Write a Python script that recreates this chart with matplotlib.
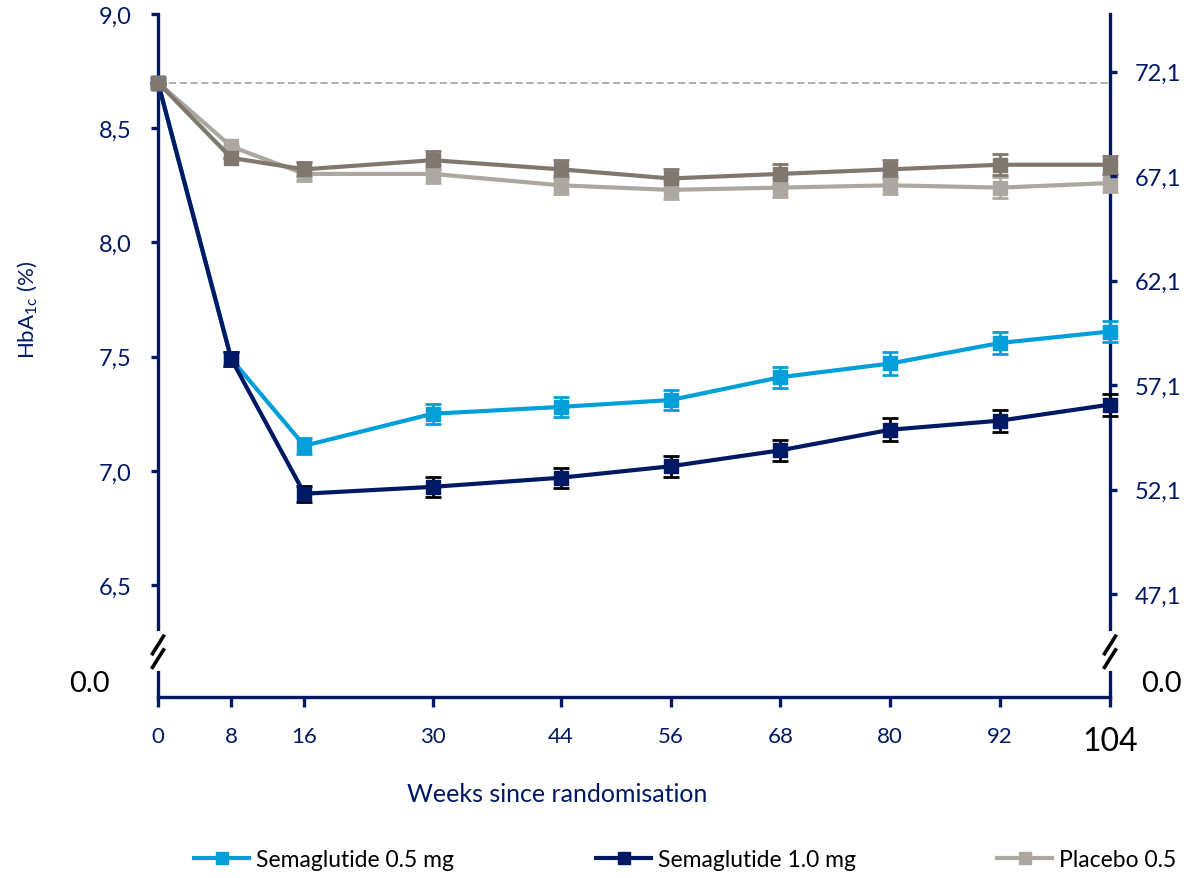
import numpy as np
import matplotlib.pyplot as plt
from matplotlib.lines import Line2D

plt.rcParams['font.family'] = ['Lato', 'DejaVu Sans']

# Dati
weeks = [0, 8, 16, 30, 44, 56, 68, 80, 92, 104]
sema05 = [8.70, 7.49, 7.11, 7.25, 7.28, 7.31, 7.41, 7.47, 7.56, 7.61]
sema05_err = [0.0, 0.03, 0.035, 0.044, 0.044, 0.044, 0.046, 0.05, 0.048, 0.047]
sema10 = [8.70, 7.49, 6.90, 6.93, 6.97, 7.02, 7.09, 7.18, 7.22, 7.29]
sema10_err = [0.0, 0.03, 0.035, 0.044, 0.044, 0.045, 0.047, 0.05, 0.048, 0.048]
plac05 = [8.70, 8.42, 8.30, 8.30, 8.25, 8.23, 8.24, 8.25, 8.24, 8.26]
plac05_err = [0.0, 0.0, 0.03, 0.04, 0.04, 0.04, 0.04, 0.04, 0.045, 0.04]
plac10 = [8.70, 8.37, 8.32, 8.36, 8.32, 8.28, 8.30, 8.32, 8.34, 8.34]
plac10_err = [0.0, 0.0, 0.03, 0.04, 0.04, 0.04, 0.045, 0.04, 0.045, 0.04]
baseline = 8.7

left_ticks = [6.5, 7.0, 7.5, 8.0, 8.5, 9.0]
left_labels = ['6,5', '7,0', '7,5', '8,0', '8,5', '9,0']
right_mmol = [47.1, 52.1, 57.1, 62.1, 67.1, 72.1]
right_labels = ['47,1', '52,1', '57,1', '62,1', '67,1', '72,1']

navy = '#001965'
lblue = '#009FDA'
dgrey = '#80776F'
lgrey = '#ADA7A1'

W, H = 1188, 879
fig = plt.figure(figsize=(W / 100, H / 100), dpi=100)
ax = fig.add_axes([158 / W, 1 - 698 / H, 952 / W, 683 / H])

ymin, ymax = 6.01, 9.0
ax.set_xlim(0, 104)
ax.set_ylim(ymin, ymax)

ax.axhline(baseline, color=lgrey, lw=1.3, ls=(0, (4, 2)), zorder=1)

series = [
    (sema05, sema05_err, lblue, lblue),
    (sema10, sema10_err, navy, 'black'),
    (plac05, plac05_err, lgrey, lgrey),
    (plac10, plac10_err, dgrey, dgrey),
]
for vals, err, c, ec in series:
    el = ax.errorbar(weeks, vals, yerr=err, color=c, marker='s', ms=10, lw=3,
                     ecolor=ec, elinewidth=2, capsize=5.5, capthick=2, zorder=3)
    for art in el.get_children():
        art.set_clip_on(False)

for side in ['left', 'right', 'bottom']:
    ax.spines[side].set_color(navy)
    ax.spines[side].set_linewidth(2.4)
ax.spines['top'].set_visible(False)

ax.set_yticks(left_ticks)
ax.set_yticklabels(left_labels)
ax.tick_params(axis='y', direction='out', length=5, width=2.4, color=navy,
               labelcolor=navy, labelsize=17, pad=14)
ax.set_xticks(weeks)
ax.set_xticklabels([str(w) for w in weeks])
ax.tick_params(axis='x', direction='out', length=7, width=2.4, color=navy,
               labelcolor=navy, labelsize=16, pad=14)
lab = ax.get_xticklabels()[-1]
lab.set_color('black')
lab.set_fontsize(23)

# asse destro in mmol/mol
ax2 = ax.twinx()
ax2.set_ylim(ymin, ymax)
ax2.set_yticks([m / 10.929 + 2.15 for m in right_mmol])
ax2.set_yticklabels(right_labels)
ax2.tick_params(axis='y', direction='out', length=5, width=2.4, color=navy,
                labelcolor=navy, labelsize=17, pad=13)
for s in ax2.spines.values():
    s.set_visible(False)

# interruzione dell'asse
ytr = ax.get_yaxis_transform()
brk_lo, brk_hi = 6.14, 6.285
for xa in [0, 1]:
    ax.plot([xa, xa], [brk_lo, brk_hi], color='white', lw=5, transform=ytr,
            clip_on=False, zorder=5)
    for yc in [6.238, 6.178]:
        dx, dy = 0.0068, 0.045
        ax.plot([xa - dx, xa + dx], [yc - dy, yc + dy], color='black', lw=2.6,
                transform=ytr, clip_on=False, zorder=6, solid_capstyle='butt')

fig.text(110 / W, 1 - 684 / H, '0.0', ha='right', va='center', fontsize=21, color='black')
fig.text(1141 / W, 1 - 684 / H, '0.0', ha='left', va='center', fontsize=21, color='black')

fig.text(27 / W, 1 - 310 / H, 'HbA$\\mathregular{_{1c}}$ (%)', rotation=90,
         ha='center', va='center', fontsize=16, color=navy)
fig.text(557 / W, 1 - 795 / H, 'Weeks since randomisation', ha='center',
         va='center', fontsize=18, color=navy)

leg_items = [('Semaglutide 0.5 mg', lblue, 194), ('Semaglutide 1.0 mg', navy, 596),
             ('Placebo 0.5', lgrey, 997)]
for text, c, xp in leg_items:
    h = Line2D([], [], color=c, lw=3, marker='s', ms=9)
    fig.legend([h], [text], loc='center left', bbox_to_anchor=(xp / W, 1 - 861 / H),
               frameon=False, borderpad=0, borderaxespad=0, handlelength=2.4,
               handletextpad=0.3, fontsize=16.5)

fig.savefig('out.png', dpi=100)
